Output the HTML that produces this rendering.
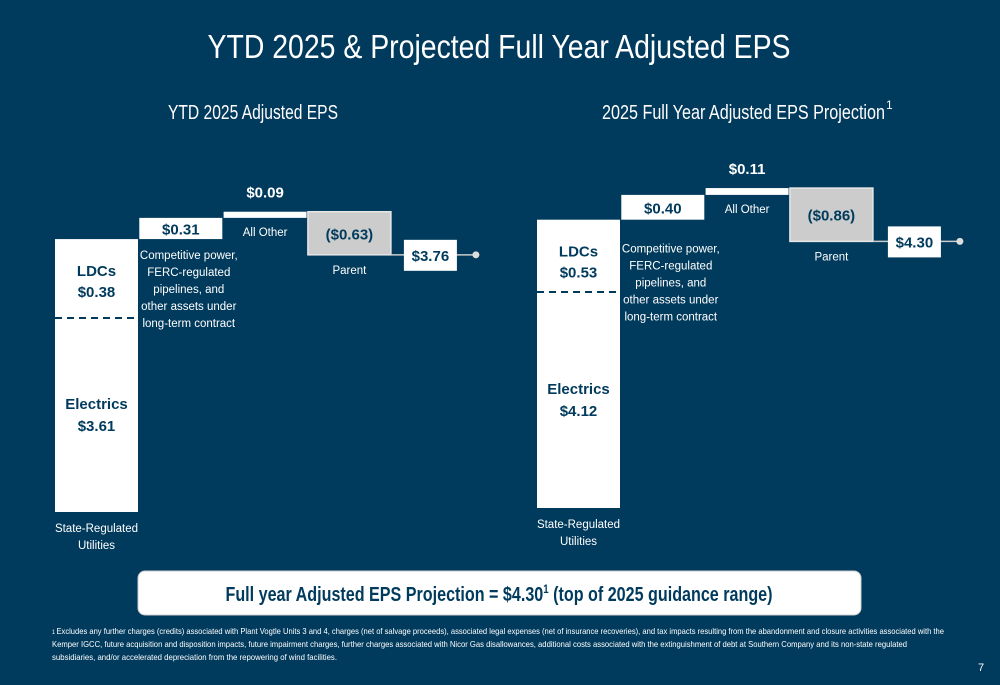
<!DOCTYPE html>
<html><head><meta charset="utf-8"><style>
html,body{margin:0;padding:0;background:#003a5c;}
svg{display:block;font-family:"Liberation Sans",sans-serif;}
</style></head><body>
<svg id="s" width="1000" height="685" viewBox="0 0 1000 685">
<rect width="1000" height="685" fill="#003a5c"/>
<text x="499" y="58" text-anchor="middle" font-size="33" fill="#fff" textLength="583" lengthAdjust="spacingAndGlyphs">YTD 2025 &amp; Projected Full Year Adjusted EPS</text>
<text x="253" y="119" text-anchor="middle" font-size="20" fill="#fff" textLength="170" lengthAdjust="spacingAndGlyphs">YTD 2025 Adjusted EPS</text>
<text x="602" y="119" font-size="20" fill="#fff" textLength="283" lengthAdjust="spacingAndGlyphs">2025 Full Year Adjusted EPS Projection</text>
<text x="886" y="109" font-size="12" fill="#fff">1</text>
<g id="left"></g>
<g id="right"></g>
<rect x="138" y="571" width="723" height="44" rx="7" fill="#fff" stroke="#ccc"/>
<text x="499" y="601" text-anchor="middle" font-size="20" font-weight="bold" fill="#003a5c" textLength="547" lengthAdjust="spacingAndGlyphs">Full year Adjusted EPS Projection = $4.30<tspan font-size="12" dy="-8">1</tspan><tspan dy="8"> (top of 2025 guidance range)</tspan></text>
<g font-size="8.5" fill="#fff">
<text x="52" y="634" textLength="892" lengthAdjust="spacingAndGlyphs"><tspan font-size="6">1 </tspan>Excludes any further charges (credits) associated with Plant Vogtle Units 3 and 4, charges (net of salvage proceeds), associated legal expenses (net of insurance recoveries), and tax impacts resulting from the abandonment and closure activities associated with the</text>
<text x="52" y="647" textLength="855" lengthAdjust="spacingAndGlyphs">Kemper IGCC, future acquisition and disposition impacts, future impairment charges, further charges associated with Nicor Gas disallowances, additional costs associated with the extinguishment of debt at Southern Company and its non-state regulated</text>
<text x="52" y="660" textLength="285" lengthAdjust="spacingAndGlyphs">subsidiaries, and/or accelerated depreciation from the repowering of wind facilities.</text>
</g>
<text x="978" y="671" font-size="11" fill="#fff">7</text>
</svg>
<script>
const leftValues=[3.61,0.38,0.31,0.09,-0.63];
const leftLabels=["$3.61","$0.38","$0.31","$0.09","($0.63)","$3.76"];
const leftTotal=3.76;
const rightValues=[4.12,0.53,0.40,0.11,-0.86];
const rightLabels=["$4.12","$0.53","$0.40","$0.11","($0.86)","$4.30"];
const rightTotal=4.30;
const categoryNames=["State-Regulated|Utilities","Competitive power,|FERC-regulated|pipelines, and|other assets under|long-term contract","All Other","Parent"];

const NS="http://www.w3.org/2000/svg";
function mk(g,tag,attrs,txt){const e=document.createElementNS(NS,tag);for(const k in attrs)e.setAttribute(k,attrs[k]);if(txt!==undefined)e.textContent=txt;g.appendChild(e);return e;}
function draw(gid,vals,labels,total,cfg){
  const g=document.getElementById(gid);
  const y=v=>cfg.base-v*cfg.k;
  const bx=i=>cfg.x0+i*cfg.step;
  const W=cfg.w;
  const top1=vals[0]+vals[1];
  let r=mk(g,'rect',{x:bx(0),y:y(top1),width:W,height:y(0)-y(top1),fill:'#fff'});
  
  const dashY=cfg.dash;
  let l=mk(g,'line',{x1:bx(0),x2:bx(0)+W,y1:dashY,y2:dashY,stroke:'#003a5c','stroke-width':2,'stroke-dasharray':'7,5'});
  
  const cx0=bx(0)+W/2;
  [['LDCs',y(top1)+37],[labels[1],y(top1)+58],['Electrics',(dashY+y(0))/2-6],[labels[0],(dashY+y(0))/2+16]].forEach((a,i)=>{
    const t=mk(g,'text',{x:cx0,y:a[1],'text-anchor':'middle','font-size':15,'font-weight':'bold',fill:'#003a5c'},a[0]);
    
  });
  categoryNames[0].split('|').forEach((s,i)=>{const t=mk(g,'text',{x:cx0,y:y(0)+20+i*17,'text-anchor':'middle','font-size':11.5,fill:'#fff'},s);
    });
  let run=top1;
  for(let i=2;i<5;i++){
    const v=vals[i];const a=run,b=run+v;run=b;
    const hi=Math.max(a,b),lo=Math.min(a,b);
    const x=bx(i-1);
    const neg=v<0;
    const rr=mk(g,'rect',{x:x,y:y(hi),width:W,height:y(lo)-y(hi),fill:neg?'#cccccc':'#fff',stroke:neg?'#e6e6e6':'none','stroke-width':1.5});
    
    const cx=x+W/2;
    let lbl;
    if(i===3) lbl=mk(g,'text',{x:cx,y:y(hi)-14,'text-anchor':'middle','font-size':15,'font-weight':'bold',fill:'#fff'},labels[i]);
    else lbl=mk(g,'text',{x:cx,y:(y(hi)+y(lo))/2+6,'text-anchor':'middle','font-size':15,'font-weight':'bold',fill:'#003a5c'},labels[i]);
    
    const lines=categoryNames[i-1].split('|');
    const startY=i===2?y(lo)+cfg.descOff:(i===3?y(lo)+18:y(lo)+19);
    const tcx=i===2?cx+8:cx;
    lines.forEach((s,j)=>{const t=mk(g,'text',{x:tcx,y:startY+j*17,'text-anchor':'middle','font-size':11.5,fill:'#fff'},s);
      });
  }
  const ty=y(total);
  const tx=bx(3)+W+cfg.gap;
  let ln=mk(g,'line',{x1:bx(3)+W,x2:tx+cfg.tw+18,y1:ty,y2:ty,stroke:'#ccc','stroke-width':1.5});
  
  let tr=mk(g,'rect',{x:tx,y:ty-15,width:cfg.tw,height:31,fill:'#fff'});
  
  let tt=mk(g,'text',{x:tx+cfg.tw/2,y:ty+6,'text-anchor':'middle','font-size':15,'font-weight':'bold',fill:'#003a5c'},labels[5]);
  
  let d=mk(g,'circle',{cx:tx+cfg.tw+19,cy:ty,r:3.5,fill:'#ddd'});
  
}
draw('left',leftValues,leftLabels,leftTotal,{base:512,k:68.4,x0:55,step:84.3,w:83,dash:318,gap:13,tw:53,descOff:20});
draw('right',rightValues,rightLabels,rightTotal,{base:508,k:62,x0:537,step:84.3,w:83,dash:292,gap:15,tw:53,descOff:33});
</script>
</body></html>
